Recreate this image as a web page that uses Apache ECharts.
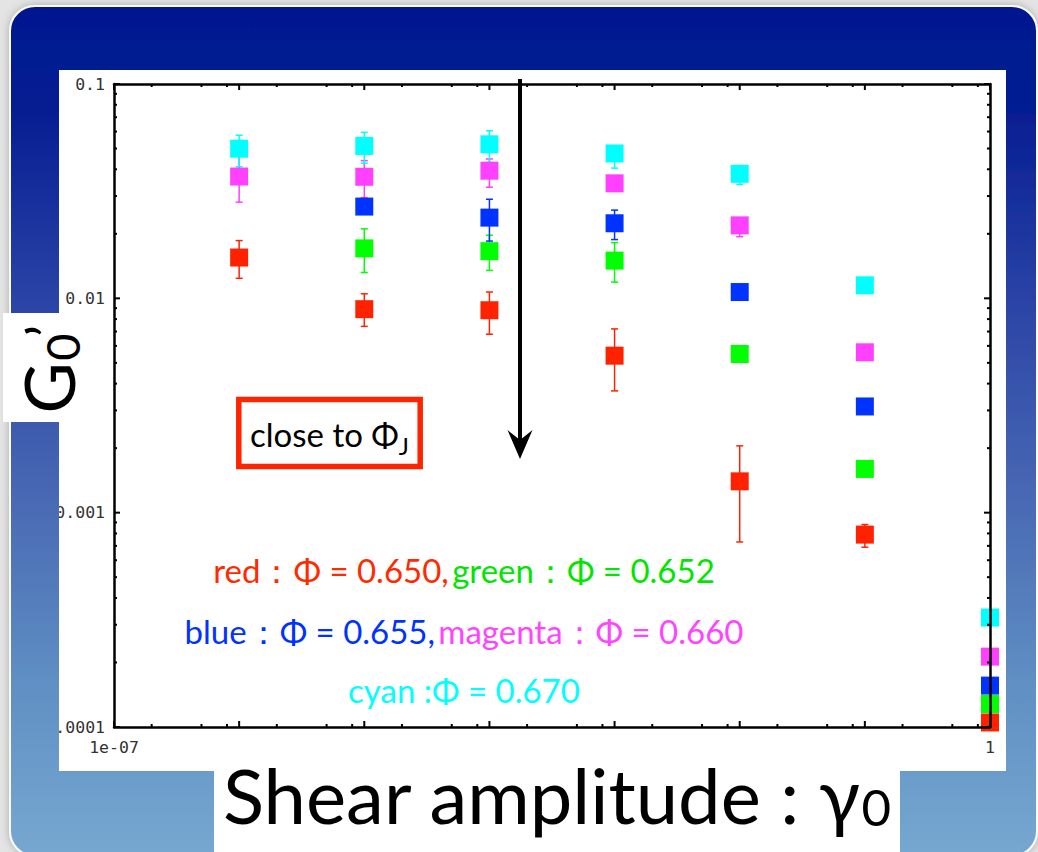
<!DOCTYPE html>
<html>
<head>
<meta charset="utf-8">
<script src="https://cdn.jsdelivr.net/npm/echarts@6/dist/echarts.min.js"></script>
<style>
  html, body { margin: 0; padding: 0; background: #e4e4e4; }
  #main { width: 1038px; height: 852px; }
</style>
</head>
<body>
<div id="main"></div>
<script>
// Shear amplitudes shared by every packing fraction
const amplitudes = [1e-6, 1e-5, 1e-4, 1e-3, 1e-2, 1e-1, 1];

// Storage modulus G0' and its error range, one set per packing fraction
const redG      = [0.0155, 0.0089, 0.0088, 0.0054, 0.0014, 0.00079, 0.000105];
const redLow    = [0.0124, 0.0074, 0.0068, 0.0037, 0.00073, 0.00069, null];
const redHigh   = [0.0186, 0.0105, 0.0107, 0.0072, 0.00205, 0.00088, null];

const greenG    = [null, 0.0171, 0.0166, 0.0150, 0.0055, 0.0016, 0.000128];
const greenLow  = [null, 0.0132, 0.0135, 0.0119, 0.0051, null, null];
const greenHigh = [null, 0.0211, 0.0197, 0.0182, null, null, null];

const blueG     = [null, 0.0268, 0.0238, 0.0224, 0.0107, 0.00313, 0.000156];
const blueLow   = [null, null, 0.0185, 0.0188, null, null, null];
const blueHigh  = [null, null, 0.0290, 0.0258, null, null, null];

const magentaG    = [0.0370, 0.0369, 0.0394, 0.0344, 0.0219, 0.0056, 0.000213];
const magentaLow  = [0.0281, 0.0295, 0.0330, null, 0.0194, null, null];
const magentaHigh = [0.046, 0.0439, 0.0447, null, null, null, null];

const cyanG     = [0.0499, 0.0514, 0.0523, 0.0474, 0.0381, 0.0115, 0.000324];
const cyanLow   = [0.0411, 0.0427, 0.0431, 0.0405, 0.034, null, null];
const cyanHigh  = [0.0577, 0.0595, 0.0605, 0.0495, null, null, null];

// Axis ranges and tick labels (keyed by decade exponent)
const xRange = [1e-7, 1];
const yRange = [1e-4, 0.1];
const xTickLabels = { '-7': '1e-07', '0': '1' };
const yTickLabels = { '-4': '0.0001', '-3': '0.001', '-2': '0.01', '-1': '0.1' };
const xMinorSteps = [2, 5, 8];
const yMinorSteps = [2, 3, 4, 5, 6, 7, 8, 9];

const colors = {
  red: '#ff2200', green: '#00ff00', blue: '#0033ff', magenta: '#ff40ff', cyan: '#00ffff'
};
const textColors = {
  red: '#ff2a00', green: '#00e600', blue: '#0033ff', magenta: '#ff44ff', cyan: '#00ffff'
};

const groups = [
  { name: 'red', g: redG, lo: redLow, hi: redHigh },
  { name: 'green', g: greenG, lo: greenLow, hi: greenHigh },
  { name: 'blue', g: blueG, lo: blueLow, hi: blueHigh },
  { name: 'magenta', g: magentaG, lo: magentaLow, hi: magentaHigh },
  { name: 'cyan', g: cyanG, lo: cyanLow, hi: cyanHigh }
];

function decadeKey(v) { return String(Math.round(Math.log10(v))); }

// tick marks: [x, y, length]
const xTicks = [];
for (let e = -7; e <= 0; e++) {
  xTicks.push([Math.pow(10, e), yRange[0], 6]);
  if (e < 0) xMinorSteps.forEach(m => xTicks.push([m * Math.pow(10, e), yRange[0], 3]));
}
const yTicks = [];
for (let e = -4; e <= -1; e++) {
  yTicks.push([xRange[0], Math.pow(10, e), 6]);
  if (e < -1) yMinorSteps.forEach(m => yTicks.push([xRange[0], m * Math.pow(10, e), 3]));
}

function renderXTick(params, api) {
  const cs = params.coordSys;
  const px = api.coord([api.value(0), api.value(1)])[0];
  const len = api.value(2);
  const b = cs.y + cs.height, t = cs.y;
  const st = { stroke: '#000', lineWidth: 2 };
  return { type: 'group', children: [
    { type: 'line', shape: { x1: px, y1: b, x2: px, y2: b - len }, style: st },
    { type: 'line', shape: { x1: px, y1: t, x2: px, y2: t + len }, style: st }
  ]};
}
function renderYTick(params, api) {
  const cs = params.coordSys;
  const py = api.coord([api.value(0), api.value(1)])[1];
  const len = api.value(2);
  const l = cs.x, r = cs.x + cs.width;
  const st = { stroke: '#000', lineWidth: 2 };
  return { type: 'group', children: [
    { type: 'line', shape: { x1: l, y1: py, x2: l + len, y2: py }, style: st },
    { type: 'line', shape: { x1: r, y1: py, x2: r - len, y2: py }, style: st }
  ]};
}
function renderErrorBar(params, api) {
  const x = api.value(0);
  const lo = api.coord([x, api.value(1)]);
  const hi = api.coord([x, api.value(2)]);
  const cap = 3.5;
  const st = { stroke: api.visual('color'), lineWidth: 1.5 };
  return { type: 'group', children: [
    { type: 'line', shape: { x1: lo[0], y1: lo[1], x2: hi[0], y2: hi[1] }, style: st },
    { type: 'line', shape: { x1: lo[0] - cap, y1: lo[1], x2: lo[0] + cap, y2: lo[1] }, style: st },
    { type: 'line', shape: { x1: hi[0] - cap, y1: hi[1], x2: hi[0] + cap, y2: hi[1] }, style: st }
  ]};
}

const series = [];
groups.forEach(gr => {
  const bars = [];
  amplitudes.forEach((a, i) => {
    if (gr.g[i] != null && gr.lo[i] != null && gr.hi[i] != null) bars.push([a, gr.lo[i], gr.hi[i]]);
    else if (gr.g[i] != null && gr.lo[i] != null) bars.push([a, gr.lo[i], gr.g[i]]);
    else if (gr.g[i] != null && gr.hi[i] != null) bars.push([a, gr.g[i], gr.hi[i]]);
  });
  series.push({
    type: 'custom', name: gr.name + ' error', renderItem: renderErrorBar,
    data: bars, encode: { x: 0, y: [1, 2] }, itemStyle: { color: colors[gr.name] },
    silent: true, z: 2
  });
});
groups.forEach(gr => {
  const pts = [];
  amplitudes.forEach((a, i) => { if (gr.g[i] != null) pts.push([a, gr.g[i]]); });
  series.push({
    type: 'scatter', name: gr.name, data: pts, symbol: 'rect', symbolSize: 18,
    itemStyle: { color: colors[gr.name], opacity: 1 }, clip: false, z: 3, silent: true
  });
});
series.push({ type: 'custom', renderItem: renderXTick, data: xTicks, encode: { x: 0, y: 1 }, silent: true, z: 4 });
series.push({ type: 'custom', renderItem: renderYTick, data: yTicks, encode: { x: 0, y: 1 }, silent: true, z: 4 });

const slideFill = () => new echarts.graphic.LinearGradient(0, 0, 0, 852, [
  { offset: 0, color: '#021890' },
  { offset: 0.13, color: '#061d92' },
  { offset: 0.35, color: '#2a43a6' },
  { offset: 0.58, color: '#4868b3' },
  { offset: 0.8, color: '#5f8fc3' },
  { offset: 1, color: '#76a7d0' }
], true);

const tickFont = { fontFamily: 'DejaVu Sans Mono', fontSize: 16.5, color: '#333' };
const axisLine = { show: true, onZero: false, lineStyle: { color: '#000', width: 2.5 } };

// rotated axis-title glyphs (reads bottom to top)
const upright = Math.PI / 2;
function titleGlyph(text, x, y, size) {
  return { type: 'text', z: 102, silent: true, x: x, y: y, rotation: upright,
    style: { text: text, fontFamily: 'Lato', fontSize: size, fill: '#000', align: 'center', verticalAlign: 'middle' } };
}

const option = {
  animation: false,
  backgroundColor: '#e4e4e4',
  grid: { left: 114, top: 84, width: 876, height: 643, containLabel: false },
  xAxis: [
    { type: 'log', logBase: 10, min: xRange[0], max: xRange[1], position: 'bottom', z: 10,
      axisLine: axisLine, axisTick: { show: false }, splitLine: { show: false }, minorTick: { show: false },
      axisLabel: Object.assign({ margin: 12, showMinLabel: true, showMaxLabel: true,
        formatter: v => xTickLabels[decadeKey(v)] || '' }, tickFont) },
    { type: 'log', logBase: 10, min: xRange[0], max: xRange[1], position: 'top', z: 10,
      axisLine: axisLine, axisTick: { show: false }, splitLine: { show: false }, axisLabel: { show: false } }
  ],
  yAxis: [
    { type: 'log', logBase: 10, min: yRange[0], max: yRange[1], position: 'left', z: 10,
      axisLine: axisLine, axisTick: { show: false }, splitLine: { show: false }, minorTick: { show: false },
      axisLabel: Object.assign({ margin: 9, showMinLabel: true, showMaxLabel: true,
        formatter: v => yTickLabels[decadeKey(v)] || '' }, tickFont) },
    { type: 'log', logBase: 10, min: yRange[0], max: yRange[1], position: 'right', z: 10,
      axisLine: axisLine, axisTick: { show: false }, splitLine: { show: false }, axisLabel: { show: false } }
  ],
  series: series,
  graphic: [
    // slide frame
    { type: 'rect', z: -100, silent: true,
      shape: { x: 10, y: 6, width: 1027, height: 850, r: 25 },
      style: { fill: slideFill(), stroke: '#fafafa', lineWidth: 2, shadowBlur: 8, shadowColor: 'rgba(0,0,0,0.25)' } },
    // white panels
    { type: 'rect', z: -90, silent: true, shape: { x: 59, y: 70, width: 947, height: 701 }, style: { fill: '#fff' } },
    { type: 'rect', z: -90, silent: true, shape: { x: 214, y: 770, width: 686, height: 90 }, style: { fill: '#fff' } },
    // slide strip masking the left side of the plot picture
    { type: 'rect', z: 100, silent: true, shape: { x: 11, y: 70, width: 48, height: 701 }, style: { fill: slideFill() } },
    { type: 'rect', z: 101, silent: true, shape: { x: 3, y: 313, width: 57, height: 109 }, style: { fill: '#fff' } },
    // y title: G, subscript 0, prime
    titleGlyph('G', 48, 388, 70),
    titleGlyph('0', 62, 347, 47),
    titleGlyph('’', 46, 331, 58),
    // x title
    { type: 'text', z: 50, silent: true, x: 223, y: 794,
      style: { text: '{m|Shear amplitude : γ}{s|0}', align: 'left', verticalAlign: 'middle',
        rich: {
          m: { fontFamily: 'Lato', fontSize: 76, fill: '#000' },
          s: { fontFamily: 'Lato', fontSize: 51, verticalAlign: 'bottom', fill: '#000' }
        } } },
    // arrow
    { type: 'line', z: 20, silent: true, shape: { x1: 520, y1: 79, x2: 520, y2: 442 },
      style: { stroke: '#000', lineWidth: 4 } },
    { type: 'polygon', z: 20, silent: true,
      shape: { points: [[520, 459], [507.5, 430], [520, 440], [532.5, 430]] }, style: { fill: '#000' } },
    // boxed note
    { type: 'rect', z: 20, silent: true, shape: { x: 238.8, y: 399.5, width: 181.4, height: 67 },
      style: { fill: 'none', stroke: '#ff2400', lineWidth: 5.5 } },
    { type: 'text', z: 21, silent: true, x: 329.5, y: 433.5,
      style: { text: '{m|close to Φ}{s|J}', align: 'center', verticalAlign: 'middle',
        rich: {
          m: { fontFamily: 'Lato', fontSize: 33, fill: '#000' },
          s: { fontFamily: 'Lato', fontSize: 24, height: 10, verticalAlign: 'bottom', fill: '#000' }
        } } },
    // colour key
    { type: 'text', z: 21, silent: true, x: 464, y: 570,
      style: { text: '{r|red：Φ = 0.650,} {g|green：Φ = 0.652}', align: 'center', verticalAlign: 'middle',
        rich: {
          r: { fontFamily: 'Lato', fontSize: 33, fill: textColors.red },
          g: { fontFamily: 'Lato', fontSize: 33, fill: textColors.green }
        } } },
    { type: 'text', z: 21, silent: true, x: 464, y: 631,
      style: { text: '{b|blue：Φ = 0.655,} {m|magenta：Φ = 0.660}', align: 'center', verticalAlign: 'middle',
        rich: {
          b: { fontFamily: 'Lato', fontSize: 33, fill: textColors.blue },
          m: { fontFamily: 'Lato', fontSize: 33, fill: textColors.magenta }
        } } },
    { type: 'text', z: 21, silent: true, x: 464, y: 690,
      style: { text: '{c|cyan :Φ = 0.670}', align: 'center', verticalAlign: 'middle',
        rich: { c: { fontFamily: 'Lato', fontSize: 33, fill: textColors.cyan } } } }
  ]
};

const chart = echarts.init(document.getElementById('main'), null, { renderer: 'svg', width: 1038, height: 852 });
chart.setOption(option);
</script>
</body>
</html>
